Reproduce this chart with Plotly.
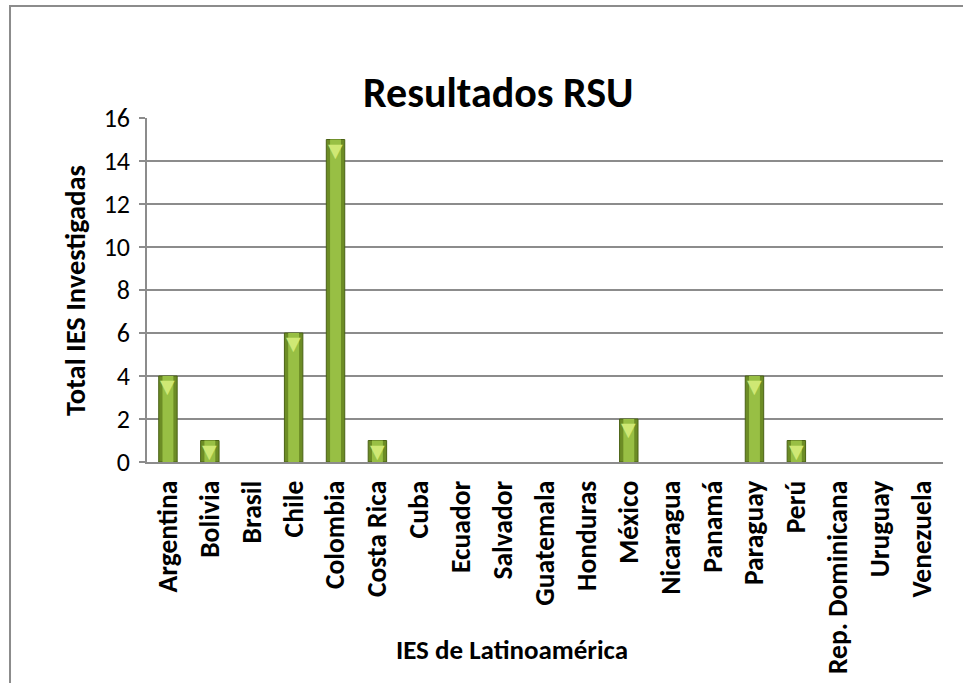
import plotly.graph_objects as go

# Data
paises = ['Argentina', 'Bolivia', 'Brasil', 'Chile', 'Colombia', 'Costa Rica', 'Cuba',
          'Ecuador', 'Salvador', 'Guatemala', 'Honduras', 'México', 'Nicaragua',
          'Panamá', 'Paraguay', 'Perú', 'Rep. Dominicana', 'Uruguay', 'Venezuela']
total_ies = [4, 1, 0, 6, 15, 1, 0, 0, 0, 0, 0, 2, 0, 0, 4, 1, 0, 0, 0]
y_ticks = [0, 2, 4, 6, 8, 10, 12, 14, 16]

FONT = "Carlito, 'Liberation Sans Narrow', 'Open Sans', sans-serif"
GRID = '#8c8c8c'

# zero values get no bar at all (Excel draws nothing there)
bar_vals = [v if v > 0 else None for v in total_ies]

fig = go.Figure()

# main bar (dark edge)
fig.add_trace(go.Bar(x=paises, y=bar_vals, width=0.44,
                     marker=dict(color='#6c8c25', line=dict(color='#4a6215', width=1)),
                     hoverinfo='x+y'))
# lighter centre to fake the gradient
fig.add_trace(go.Bar(x=paises, y=bar_vals, width=0.26,
                     marker=dict(color='#98bf44', line=dict(width=0)),
                     hoverinfo='skip'))

fig.update_layout(
    width=963, height=683,
    barmode='overlay',
    showlegend=False,
    paper_bgcolor='white',
    plot_bgcolor='white',
    margin=dict(l=147, r=20, t=118, b=221),
    font=dict(family=FONT, color='black'),
)

# bevel triangle on top of each non-zero bar
for p, v in zip(paises, total_ies):
    if v > 0:
        fig.add_annotation(x=p, y=v, text='▼', showarrow=False, yanchor='top', yshift=3,
                           font=dict(size=19, color='#cfe874', family='DejaVu Sans'))

# title and axis titles
fig.add_annotation(xref='paper', yref='paper', x=0.442, y=1.154, text='<b>Resultados RSU</b>',
                   showarrow=False, xanchor='center', font=dict(size=42, family=FONT))
fig.add_annotation(xref='paper', yref='paper', x=-0.0905, y=0.5, text='<b>Total IES Investigadas</b>',
                   textangle=-90, showarrow=False, xanchor='center', yanchor='middle',
                   font=dict(size=28.5, family=FONT))
fig.add_annotation(xref='paper', yref='paper', x=0.4585, y=-0.5465, text='<b>IES de Latinoamérica</b>',
                   showarrow=False, xanchor='center', yanchor='middle', font=dict(size=27, family=FONT))

# outer chart frame
fig.add_shape(type='rect', xref='paper', yref='paper', x0=-0.1721, x1=1.2, y0=-1.0, y1=1.3256,
              line=dict(color=GRID, width=2), layer='below')

fig.update_xaxes(
    tickangle=-90,
    tickfont=dict(size=27.5, family=FONT, weight='bold'),
    showline=True, linecolor=GRID, linewidth=1.5,
    showgrid=False,
    ticks='',
    ticklabelstandoff=6,
    automargin=False,
)
fig.update_yaxes(
    range=[0, 16],
    tickvals=y_ticks,
    tickfont=dict(size=26, family=FONT),
    showline=True, linecolor=GRID, linewidth=1.5,
    showgrid=True, gridcolor=GRID, gridwidth=1.5,
    ticks='outside', ticklen=6, tickcolor=GRID, tickwidth=1.5,
    ticklabelstandoff=4,
    zeroline=False,
    automargin=False,
)

fig.write_html('out.html', config={'displayModeBar': False},
               post_script="document.body.style.margin='0';")
